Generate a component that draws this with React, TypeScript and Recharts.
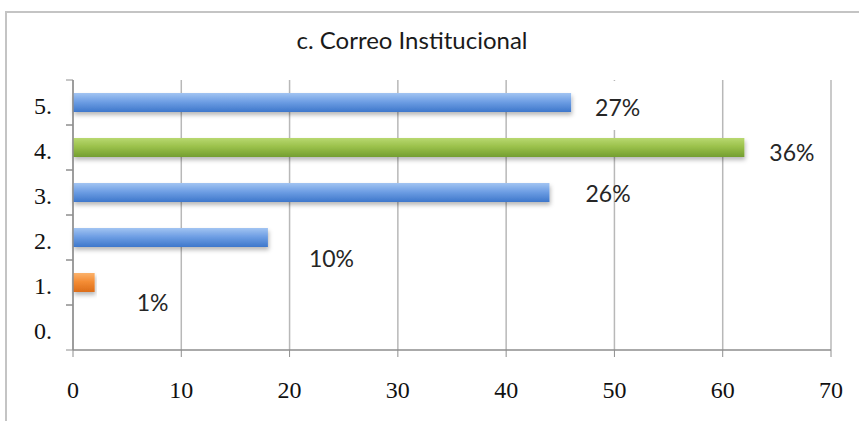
import React from 'react';
import { BarChart, Bar, XAxis, YAxis, CartesianGrid, Cell, LabelList } from 'recharts';

const categories = ['5.', '4.', '3.', '2.', '1.', '0.'];
const values = [46, 62, 44, 18, 2, 0];
const percentLabels = ['27%', '36%', '26%', '10%', '1%', ''];
const xTicks = [0, 10, 20, 30, 40, 50, 60, 70];

// styling only
const barFills = ['url(#gBlue)', 'url(#gGreen)', 'url(#gBlue)', 'url(#gBlue)', 'url(#gOrange)', 'url(#gBlue)'];
const labelDx = [24, 25, 36, 41, 42, 0];
const labelDy = [13.5, 13.5, 9.5, 29.5, 28.5, 0];
const labelBox = [true, false, false, false, false, false];

const W = 859;
const H = 421;
const M = { top: 80, right: 28, bottom: 21, left: 0 };
const X_AXIS_H = 50;
const Y_AXIS_W = 73;
const PLOT_H = H - M.top - M.bottom - X_AXIS_H;
const STEP = PLOT_H / categories.length;

const data = categories.map((c, i) => ({ cat: c, value: values[i], label: percentLabels[i] }));

const SERIF = '"Liberation Serif", "DejaVu Serif", serif';
const SANS = 'Lato, "Open Sans", "Noto Sans", sans-serif';
const AXIS = '#8e8e8e';
const GRID = '#b8b8b8';

const YTick = (props: any) => {
  const { x, y, payload } = props;
  const ax = x + 21;
  return (
    <g>
      <line x1={ax - 7} x2={ax} y1={y - STEP / 2} y2={y - STEP / 2} stroke={AXIS} strokeWidth={1} />
      <line x1={ax - 7} x2={ax} y1={y + STEP / 2} y2={y + STEP / 2} stroke={AXIS} strokeWidth={1} />
      <text x={x} y={y} dy={11.5} textAnchor="end" fontFamily={SERIF} fontSize={24} fill="#111111">
        {payload.value}
      </text>
    </g>
  );
};

const XTick = (props: any) => {
  const { x, y, payload } = props;
  return (
    <text x={x} y={y} dy={17} textAnchor="middle" fontFamily={SERIF} fontSize={24} fill="#111111">
      {payload.value}
    </text>
  );
};

const PctLabel = (props: any) => {
  const { x, y, width, height, value, index } = props;
  if (!value) return null;
  const endX = x + width;
  const cy = y + height / 2;
  const tx = endX + labelDx[index];
  const ty = cy + labelDy[index];
  return (
    <g>
      {labelBox[index] ? <rect x={tx - 6} y={cy - 21.5} width={58} height={49} fill="#ffffff" /> : null}
      <text x={tx} y={ty} textAnchor="start" fontFamily={SANS} fontSize={23} fill="#262626">
        {value}
      </text>
    </g>
  );
};

export default function App() {
  return (
    <div style={{ position: 'absolute', left: 0, top: 0, width: W, height: H, background: '#ffffff', overflow: 'hidden' }}>
      <div
        style={{
          position: 'absolute',
          left: 5,
          top: 11,
          width: 1000,
          height: 600,
          borderTop: '2px solid #c4c4c4',
          borderLeft: '2px solid #c4c4c4',
          boxSizing: 'border-box',
        }}
      />
      <div style={{ position: 'absolute', left: 0, top: 0 }}>
        <BarChart width={W} height={H} data={data} layout="vertical" margin={M} barSize={19}>
          <defs>
            <linearGradient id="gBlue" x1="0" y1="0" x2="0" y2="1">
              <stop offset="0%" stopColor="#a2c4f2" />
              <stop offset="45%" stopColor="#6f9fe4" />
              <stop offset="100%" stopColor="#3e77cb" />
            </linearGradient>
            <linearGradient id="gGreen" x1="0" y1="0" x2="0" y2="1">
              <stop offset="0%" stopColor="#b8d870" />
              <stop offset="45%" stopColor="#9bc14b" />
              <stop offset="100%" stopColor="#739e30" />
            </linearGradient>
            <linearGradient id="gOrange" x1="0" y1="0" x2="0" y2="1">
              <stop offset="0%" stopColor="#fbb26c" />
              <stop offset="45%" stopColor="#f48d35" />
              <stop offset="100%" stopColor="#dc6d19" />
            </linearGradient>
            <filter id="barShadow" x="-5%" y="-30%" width="115%" height="190%">
              <feDropShadow dx="1" dy="3" stdDeviation="2" floodColor="#000000" floodOpacity="0.28" />
            </filter>
          </defs>
          <CartesianGrid horizontal={false} vertical={true} stroke={GRID} strokeWidth={1.5} />
          <XAxis
            type="number"
            domain={[0, 70]}
            ticks={xTicks}
            interval={0}
            height={X_AXIS_H}
            tickSize={7}
            tickMargin={24}
            stroke={AXIS}
            tickLine={{ stroke: AXIS }}
            axisLine={{ stroke: AXIS, strokeWidth: 1.5 }}
            tick={<XTick />}
          />
          <YAxis
            type="category"
            dataKey="cat"
            width={Y_AXIS_W}
            tickSize={0}
            tickMargin={21}
            tickLine={false}
            axisLine={{ stroke: AXIS, strokeWidth: 1.5 }}
            interval={0}
            tick={<YTick />}
          />
          <Bar dataKey="value" isAnimationActive={false}>
            {data.map((d, i) => (
              <Cell key={d.cat} fill={barFills[i]} filter="url(#barShadow)" />
            ))}
            <LabelList dataKey="label" content={<PctLabel />} />
          </Bar>
        </BarChart>
      </div>
      <div
        style={{
          position: 'absolute',
          left: 212,
          top: 26,
          width: 400,
          textAlign: 'center',
          fontFamily: SANS,
          fontSize: 24,
          lineHeight: '28px',
          color: '#1a1a1a',
        }}
      >
        c. Correo Institucional
      </div>
    </div>
  );
}
